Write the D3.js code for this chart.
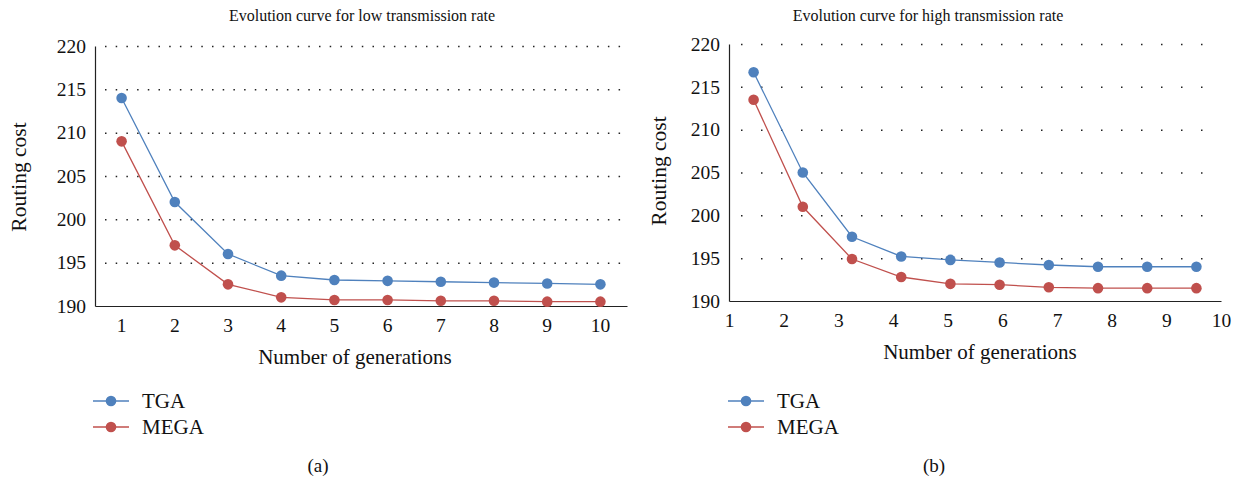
<!DOCTYPE html>
<html>
<head>
<meta charset="utf-8">
<script src="https://cdn.jsdelivr.net/npm/d3@7"></script>
<style>
  body { margin: 0; background: #fff; }
  svg { display: block; }
  svg text { font-family: "Liberation Serif", "Times New Roman", serif; fill: #111; }
</style>
</head>
<body>
<svg id="chart" width="1236" height="479"></svg>
<script>
// data
var generations = [1, 2, 3, 4, 5, 6, 7, 8, 9, 10];
var lowTGA  = [214, 202, 196, 193.5, 193, 192.9, 192.8, 192.7, 192.6, 192.5];
var lowMEGA = [209, 197, 192.5, 191, 190.7, 190.7, 190.6, 190.6, 190.5, 190.5];

var highX    = [1.45, 2.35, 3.25, 4.15, 5.05, 5.95, 6.85, 7.75, 8.65, 9.55];
var highTGA  = [216.7, 205, 197.5, 195.2, 194.8, 194.5, 194.2, 194, 194, 194];
var highMEGA = [213.5, 201, 194.9, 192.8, 192, 191.9, 191.6, 191.5, 191.5, 191.5];

var yTicks = [190, 195, 200, 205, 210, 215, 220];
var highXTicks = [1, 2, 3, 4, 5, 6, 7, 8, 9, 10];
var seriesNames = ["TGA", "MEGA"];
var colors = ["#4f81bd", "#c0504d"];

var FONT = "Liberation Serif, Times New Roman, serif";
var svg = d3.select("#chart");

function drawChart(cfg) {
  var g = svg.append("g");
  var y = cfg.y;
  var x0 = cfg.left, x1 = cfg.right;

  // dotted gridlines
  g.append("g")
    .attr("transform", "translate(" + x0 + ",0)")
    .call(d3.axisLeft(y).tickValues(yTicks.filter(function(d){ return d > 190; }))
      .tickSize(-(x1 - x0)).tickFormat(""))
    .call(function(s){
      s.select(".domain").remove();
      s.selectAll(".tick line")
        .attr("x1", cfg.gridStart - x0)
        .attr("stroke", "#222")
        .attr("stroke-width", 1.5)
        .attr("stroke-dasharray", cfg.dash);
    });

  // y axis
  g.append("g")
    .attr("transform", "translate(" + x0 + ",0)")
    .call(d3.axisLeft(y).tickValues(yTicks).tickSize(0).tickPadding(9))
    .call(function(s){
      s.attr("font-family", FONT).attr("font-size", 19.5);
      s.select(".domain").attr("stroke", "#222").attr("stroke-width", 1.2);
      s.selectAll("text").attr("fill", "#111");
    });

  // x axis
  g.append("g")
    .attr("transform", "translate(0," + y(190) + ")")
    .call(cfg.xAxis.tickSize(0).tickPadding(12))
    .call(function(s){
      s.attr("font-family", FONT).attr("font-size", 19.5);
      s.select(".domain").attr("stroke", "#222").attr("stroke-width", 1.2);
      s.selectAll("text").attr("fill", "#111");
    });

  // series
  var line = d3.line()
    .x(function(d){ return cfg.px(d[0]); })
    .y(function(d){ return y(d[1]); });

  cfg.series.forEach(function(vals, i){
    var pts = vals.map(function(v, j){ return [cfg.xs[j], v]; });
    g.append("path")
      .datum(pts)
      .attr("d", line)
      .attr("fill", "none")
      .attr("stroke", colors[i])
      .attr("stroke-width", 1.3);
    g.selectAll(".pt" + i)
      .data(pts)
      .enter().append("circle")
      .attr("class", "pt" + i)
      .attr("cx", function(d){ return cfg.px(d[0]); })
      .attr("cy", function(d){ return y(d[1]); })
      .attr("r", 5.3)
      .attr("fill", colors[i]);
  });

  // titles
  g.append("text")
    .attr("x", cfg.titleX).attr("y", 21)
    .attr("text-anchor", "middle")
    .attr("font-size", 16)
    .text(cfg.title);

  g.append("text")
    .attr("transform", "translate(" + cfg.yLabelX + "," + cfg.yLabelY + ") rotate(-90)")
    .attr("text-anchor", "middle")
    .attr("font-size", 21.5)
    .text("Routing cost");

  g.append("text")
    .attr("x", cfg.xLabelX).attr("y", cfg.xLabelY)
    .attr("text-anchor", "middle")
    .attr("font-size", 21)
    .text("Number of generations");

  // legend
  seriesNames.forEach(function(name, i){
    var ly = 401 + i * 26;
    g.append("line")
      .attr("x1", cfg.legX).attr("x2", cfg.legX + 36)
      .attr("y1", ly).attr("y2", ly)
      .attr("stroke", colors[i]).attr("stroke-width", 1.5);
    g.append("circle")
      .attr("cx", cfg.legX + 18).attr("cy", ly).attr("r", 5.3)
      .attr("fill", colors[i]);
    g.append("text")
      .attr("x", cfg.legX + 49).attr("y", ly + 7)
      .attr("font-size", 21)
      .text(name);
  });

  g.append("text")
    .attr("x", cfg.capX).attr("y", 472)
    .attr("text-anchor", "middle")
    .attr("font-size", 19)
    .text(cfg.caption);
}

// (a) low transmission rate - category x axis
var xa = d3.scaleBand().domain(generations).range([95, 627]);
var ya = d3.scaleLinear().domain([190, 220]).range([306, 46]);
drawChart({
  y: ya, left: 95, right: 627, gridStart: 105, dash: "1.5,9.2",
  xAxis: d3.axisBottom(xa),
  xs: generations,
  px: function(d){ return xa(d) + xa.bandwidth() / 2; },
  series: [lowTGA, lowMEGA],
  title: "Evolution curve for low transmission rate", titleX: 362,
  yLabelX: 26, yLabelY: 177,
  xLabelX: 355, xLabelY: 364,
  legX: 93, capX: 318, caption: "(a)"
});

// (b) high transmission rate - numeric x axis
var xb = d3.scaleLinear().domain([1, 10]).range([729, 1221]);
var yb = d3.scaleLinear().domain([190, 220]).range([301, 44]);
drawChart({
  y: yb, left: 729, right: 1221, gridStart: 741, dash: "1.5,18.5",
  xAxis: d3.axisBottom(xb).tickValues(highXTicks).tickFormat(d3.format("d")),
  xs: highX,
  px: function(d){ return xb(d); },
  series: [highTGA, highMEGA],
  title: "Evolution curve for high transmission rate", titleX: 928,
  yLabelX: 666, yLabelY: 171,
  xLabelX: 980, xLabelY: 359,
  legX: 728, capX: 934, caption: "(b)"
});
</script>
</body>
</html>
